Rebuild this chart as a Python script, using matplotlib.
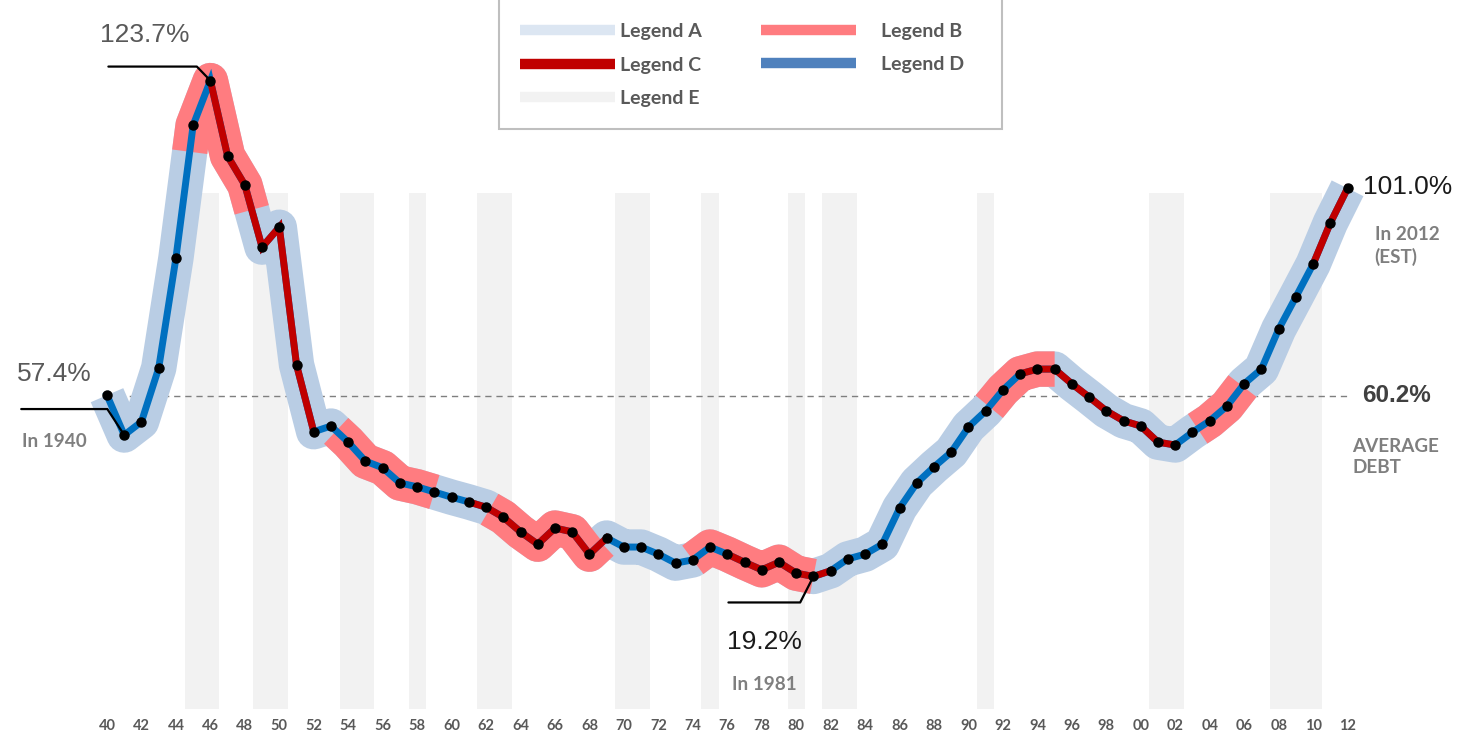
import numpy as np
import matplotlib
matplotlib.use("Agg")
import matplotlib.pyplot as plt
from matplotlib.lines import Line2D
from matplotlib.patches import Rectangle

# debt / GDP, one point a year
years = np.arange(1940, 2013)
debt = np.array([
    57.4, 49.0, 51.8, 63.1, 86.3, 114.3, 123.7, 107.8, 101.7, 88.6,   # 40-49
    92.8, 63.8, 49.7, 50.9, 47.5, 43.5, 42.1, 38.9, 38.1, 37.0,       # 50-59
    35.9, 34.9, 33.8, 31.7, 28.6, 26.0, 29.4, 28.6, 23.9, 27.3,       # 60-69
    25.4, 25.4, 23.9, 22.0, 22.7, 25.4, 23.9, 22.2, 20.6, 22.2,       # 70-79
    19.9, 19.2, 20.4, 22.9, 23.9, 26.0, 33.6, 38.9, 42.3, 45.4,       # 80-89
    50.7, 54.1, 58.5, 61.9, 62.9, 62.9, 59.8, 57.0, 54.1, 52.0,       # 90-99
    50.9, 47.5, 46.9, 49.6, 52.0, 55.1, 59.8, 62.9, 71.3, 78.1,       # 00-09
    85.0, 93.7, 101.0,                                                # 10-12
])
avg_level = 57.3
avg_label = "60.2%"

# periods where the thin line turns red (Legend C)
red_spans = [(1946, 1952), (1961, 1969), (1976, 1982), (1993, 2002), (2010, 2012)]
# salmon highlight bands (Legend B)
salmon_spans = [(1944.8, 1948.4), (1953.3, 1959.0), (1962.2, 1968.7),
                (1974.0, 1981.0), (1991.2, 1995.0), (2003.3, 2005.9)]
# grey vertical bars (Legend E)
grey_spans = [(1944.5, 1946.5), (1948.5, 1950.5), (1953.5, 1955.5), (1957.5, 1958.5),
              (1961.5, 1963.5), (1969.5, 1971.5), (1974.5, 1975.5), (1979.5, 1980.5),
              (1981.5, 1983.5), (1990.5, 1991.5), (2000.5, 2002.5), (2007.5, 2010.5)]
grey_top = 100

legend_labels = ["Legend A", "Legend B", "Legend C", "Legend D", "Legend E"]

c_band = "#b9cde4"
c_salmon = "#ff7c80"
c_red = "#c00000"
c_blue = "#0070c0"
c_grey = "#f2f2f2"
c_text = "#595959"
c_light = "#7f7f7f"

CAL = ["Lato", "DejaVu Sans"]
ARI = ["Liberation Sans", "DejaVu Sans"]


def piece(a, b):
    m = (years > a) & (years < b)
    xs = np.r_[a, years[m], b]
    return xs, np.interp(xs, years, debt)


fig = plt.figure(figsize=(14.58, 7.32), dpi=100)
ax = fig.add_axes([0, 23 / 732, 1, 709 / 732])
ax.set_xlim(1933.79, 2018.41)
ax.set_ylim(-8.73, 140.68)
ymin = ax.get_ylim()[0]

for a, b in grey_spans:
    ax.bar((a + b) / 2, grey_top - ymin, width=b - a, bottom=ymin, color=c_grey, zorder=0)

ax.plot([years[0], years[-1]], [avg_level, avg_level], color=c_light, lw=1,
        dashes=(4.5, 3.5), zorder=1)

band_w = 25.5
ax.plot(years, debt, color=c_band, lw=band_w, solid_joinstyle="round",
        solid_capstyle="butt", zorder=2)
for a, b in salmon_spans:
    xs, ys = piece(a, b)
    ax.plot(xs, ys, color=c_salmon, lw=band_w, solid_joinstyle="round",
            solid_capstyle="butt", zorder=3)

ax.plot(years, debt, color=c_blue, lw=5, solid_joinstyle="miter", zorder=4)
for a, b in red_spans:
    xs, ys = piece(a, b)
    ax.plot(xs, ys, color=c_red, lw=5, solid_joinstyle="miter", zorder=5)
ax.plot(years, debt, "o", color="black", ms=6.5, zorder=6)

ax.set_xticks(years[::2])
ax.set_xticklabels([f"{y % 100:02d}" for y in years[::2]], family=CAL,
                   fontweight="bold", fontsize=10.5, color=c_text)
ax.tick_params(axis="x", length=0, pad=7)
ax.set_yticks([])
for s in ax.spines.values():
    s.set_visible(False)


def leader(yr, val, dx, dy, angB):
    ax.annotate("", xy=(yr, val), xytext=(dx, dy), textcoords="offset pixels",
                arrowprops=dict(arrowstyle="-", color="black", lw=1.6, shrinkA=0, shrinkB=0,
                                connectionstyle=f"angle,angleA=0,angleB={angB},rad=0"),
                zorder=7)


def label(yr, val, txt, dx, dy, **kw):
    ax.annotate(txt, xy=(yr, val), xytext=(dx, dy), textcoords="offset pixels", **kw)


i40, i41, i46, i81 = 0, 1, 6, 41
leader(years[i46], debt[i46], -102, 14, -46)
label(years[i46], debt[i46], f"{debt[i46]:.1f}%", -66, 46, ha="center", va="center",
      family=ARI, fontsize=19, color=c_text)

leader(years[i41], debt[i41], -103, 26, 123)
label(years[i40], debt[i40], f"{debt[i40]:.1f}%", -90, 21, ha="left", va="center",
      family=ARI, fontsize=19, color=c_text)
label(years[i40], debt[i40], "In 1940", -53, -46, ha="center", va="center",
      family=CAL, fontweight="bold", fontsize=13.6, color=c_light)

leader(years[i81], debt[i81], -85, -26, 63)
label(years[i81], debt[i81], f"{debt[i81]:.1f}%", -49, -66, ha="center", va="center",
      family=ARI, fontsize=19, color="#1a1a1a")
label(years[i81], debt[i81], "In 1981", -49, -108, ha="center", va="center",
      family=CAL, fontweight="bold", fontsize=13.6, color=c_light)

label(years[-1], debt[-1], f"{debt[-1]:.1f}%", 15, 1, ha="left", va="center",
      family=ARI, fontsize=19, color="#1a1a1a")
label(years[-1], debt[-1], f"In {years[-1]}\n(EST)", 27, -38, ha="left", va="top",
      family=CAL, fontweight="bold", fontsize=13.6, color=c_light, linespacing=1.3)

label(years[-1], avg_level, avg_label, 15, 0, ha="left", va="center",
      family=ARI, fontweight="bold", fontsize=17.5, color="#404040")
label(years[-1], avg_level, "AVERAGE\nDEBT", 5, -42, ha="left", va="top",
      family=CAL, fontweight="bold", fontsize=13.6, color=c_light, linespacing=1.3)

# legend: frame + two frameless legends (different text gaps per column)
fig.patches.append(Rectangle((499 / 1458, 1 - 129 / 732), 503 / 1458, 0.3,
                             transform=fig.transFigure, facecolor="white",
                             edgecolor="#bfbfbf", lw=1.5, zorder=10, clip_on=False))


def hnd(c):
    return Line2D([], [], color=c, lw=7.5, solid_capstyle="butt")


leg_kw = dict(frameon=False, borderpad=0, borderaxespad=0, handlelength=4.9,
              labelspacing=0.85, prop=dict(family=CAL, weight="bold", size=14))
leg1 = fig.legend([hnd("#dce6f2"), hnd(c_red), hnd(c_grey)],
                  [legend_labels[0], legend_labels[2], legend_labels[4]],
                  loc="center left", bbox_to_anchor=(520 / 1458, 1 - 65 / 732),
                  handletextpad=0.25, **leg_kw)
leg2 = fig.legend([hnd(c_salmon), hnd("#4f81bd")],
                  [legend_labels[1], legend_labels[3]],
                  loc="center left", bbox_to_anchor=(761 / 1458, 1 - 48 / 732),
                  handletextpad=1.25, **leg_kw)
for lg in (leg1, leg2):
    lg.set_zorder(11)
    for t in lg.get_texts():
        t.set_color(c_text)

fig.savefig("out.png", dpi=100, facecolor="white")
